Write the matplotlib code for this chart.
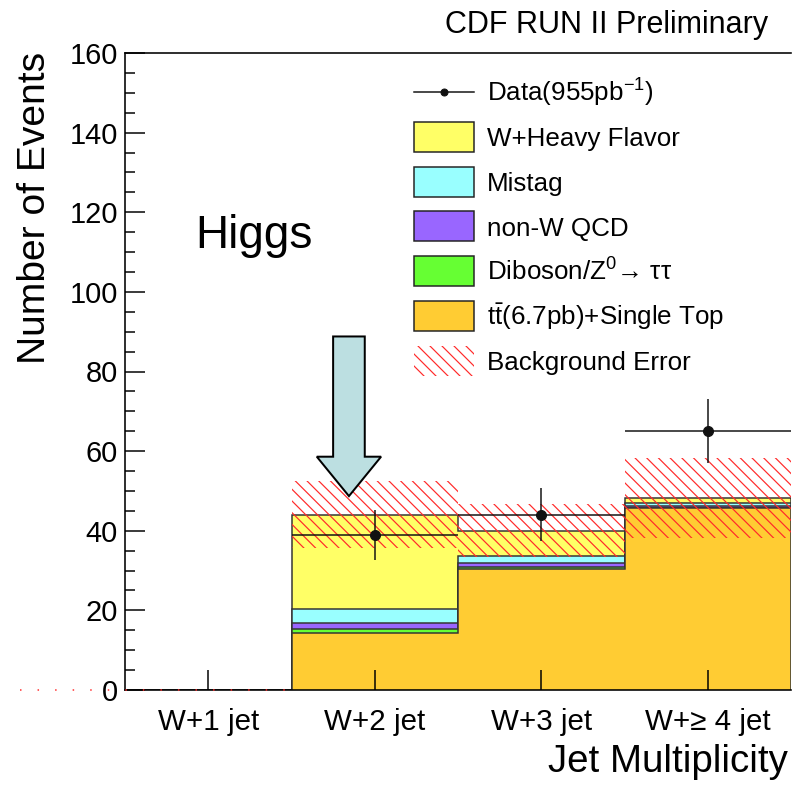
import numpy as np
import matplotlib
matplotlib.use("Agg")
import matplotlib.pyplot as plt
from matplotlib.patches import Rectangle, FancyArrow
from matplotlib.lines import Line2D
from matplotlib.collections import LineCollection
from matplotlib.ticker import MultipleLocator

plt.rcParams['font.family'] = ['Liberation Sans', 'DejaVu Sans']
plt.rcParams['mathtext.fontset'] = 'custom'
plt.rcParams['mathtext.rm'] = 'Liberation Sans'
plt.rcParams['mathtext.it'] = 'Liberation Sans:italic'
plt.rcParams['hatch.linewidth'] = 1.2
plt.rcParams['hatch.color'] = '#ff2a2a'

# jet bins
bins = ["W+1 jet", "W+2 jet", "W+3 jet", "W+\u2265 4 jet"]

# background stack, bottom to top
ttbar_single_top = [0, 14.2, 30.3, 45.6]
diboson = [0, 1.1, 0.5, 0.2]
non_w_qcd = [0, 1.6, 1.0, 0.3]
mistag = [0, 3.4, 1.9, 0.8]
w_heavy_flavor = [0, 23.7, 6.3, 1.3]
bg_error = [0, 8.4, 6.7, 10.0]

# observed events
data_counts = [0, 39, 44, 65]

stack = [ttbar_single_top, diboson, non_w_qcd, mistag, w_heavy_flavor]
farben = ['#ffcc33', '#66ff33', '#9966ff', '#99ffff', '#ffff66']
namen = ["W+Heavy Flavor", "Mistag", "non-W QCD",
         "Diboson/Z$^{0}$\u2192 \u03c4\u03c4", "t$\\bar{\\rm t}$(6.7pb)+Single Top"]
rot = '#ff2a2a'

W, H = 792, 785
ax_w, ax_h = 666, 637
fig = plt.figure(figsize=(W / 72, H / 72), dpi=72)
ax = fig.add_axes([125 / W, 95 / H, ax_w / W, ax_h / H])

edges = np.arange(len(bins) + 1)
mitte = edges[:-1] + 0.5
kum = np.cumsum(np.array(stack, dtype=float), axis=0)

# top layer first, lower layers painted over it
for i in range(len(stack) - 1, -1, -1):
    ax.stairs(kum[i], edges, baseline=0, fill=True, facecolor=farben[i],
              edgecolor='#333333', linewidth=1.5, zorder=1)

# error band: hand-made 45 degree hatching clipped to the band
total = kum[-1]
err = np.array(bg_error)
band = ax.stairs(total + err, edges, baseline=total - err, fill=True,
                 facecolor='none', linewidth=0, zorder=3)
px_x = ax_w / 4.0        # pixels per bin
px_y = ax_h / 160.0      # pixels per event
schritt = 11.7 / px_x
versatz = 160 * px_y / px_x
segs = [[(x0, 0), (x0 - versatz, 160)] for x0 in np.arange(0.03, 4 + versatz, schritt)]
lc = LineCollection(segs, colors=rot, linewidths=1.2, zorder=3)
ax.add_collection(lc)
lc.set_clip_path(band)

# zero-width band in the first bin shows up as a dotted line
ax.plot([-0.63, 1.0], [0, 0], color=rot, lw=1.5, ls=(0, (1, 10.7)),
        clip_on=False, zorder=6)

d = np.array(data_counts, dtype=float)
sel = d > 0
ax.errorbar(mitte[sel], d[sel], xerr=0.5, yerr=np.sqrt(d[sel]), fmt='o',
            color='#111111', ms=10, lw=1.5, capsize=0, zorder=4)

# Higgs arrow
pfeil_x, pfeil_top, pfeil_tip = 1.345, 88.8, 48.7
ax.add_patch(FancyArrow(pfeil_x, pfeil_top, 0, pfeil_tip - pfeil_top, width=0.19,
                        head_width=0.386, head_length=9.9, length_includes_head=True,
                        facecolor='#bcdfe1', edgecolor='black', linewidth=2, zorder=5))

ax.set_xlim(0, 4)
ax.set_ylim(0, 160)
ax.set_xticks(mitte)
ax.set_xticklabels(bins)
ax.set_yticks(np.arange(0, 161, 20))
ax.yaxis.set_minor_locator(MultipleLocator(5))
ax.tick_params(axis='x', direction='in', length=20, width=1.5, pad=18, labelsize=29.5)
ax.tick_params(axis='y', which='major', direction='in', length=20, width=1.5, pad=7, labelsize=29)
ax.tick_params(axis='y', which='minor', direction='in', length=10, width=1.5)
ax.set_axisbelow(False)
ax.spines['right'].set_visible(False)
for s in ['left', 'bottom', 'top']:
    ax.spines[s].set_linewidth(1.6)
ax.patch.set_alpha(0)

fig.text(45 / W, 1 - 52 / H, "Number of Events", rotation=90, rotation_mode='anchor',
         ha='right', va='baseline', fontsize=39)
fig.text(788 / W, 1 - 772 / H, "Jet Multiplicity", ha='right', va='baseline', fontsize=38.5)
fig.text(768 / W, 1 - 33 / H, "CDF RUN II Preliminary", ha='right', va='baseline', fontsize=30.5)
fig.text(195 / W, 1 - 248 / H, "Higgs", ha='left', va='baseline', fontsize=46)

# legend, drawn by hand in pixel positions
lx, lw_box, lh_box, ltext = 414, 60, 30, 487
y0, dy = 92, 44.8


def fx(px):
    return px / W


def fy(py):
    return 1 - py / H


fig.add_artist(Line2D([fx(lx), fx(lx + lw_box)], [fy(y0), fy(y0)], color='#111111', lw=1.5,
                      transform=fig.transFigure))
fig.add_artist(Line2D([fx(lx + lw_box / 2)], [fy(y0)], color='#111111', marker='o', ms=7,
                      transform=fig.transFigure))
fig.text(fx(ltext), fy(y0 + 9.5), "Data(955pb$^{-1}$)", fontsize=26, va='baseline')

leg_farben = farben[::-1]
for i, name in enumerate(namen):
    yc = y0 + (i + 1) * dy
    fig.add_artist(Rectangle((fx(lx), fy(yc + lh_box / 2)), lw_box / W, lh_box / H,
                             facecolor=leg_farben[i], edgecolor='#222222', lw=1.5,
                             transform=fig.transFigure))
    fig.text(fx(ltext), fy(yc + 9.5), name, fontsize=26, va='baseline')

yc = y0 + 6 * dy
fig.add_artist(Rectangle((fx(lx), fy(yc + lh_box / 2)), lw_box / W, lh_box / H,
                         facecolor='none', edgecolor=rot, hatch='\\\\', lw=0,
                         transform=fig.transFigure))
fig.text(fx(ltext), fy(yc + 9.5), "Background Error", fontsize=26, va='baseline')

fig.savefig("out.png", dpi=72)
